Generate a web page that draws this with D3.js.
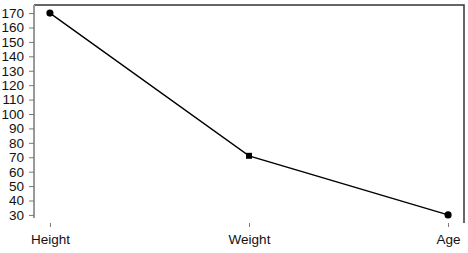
<!DOCTYPE html>
<html>
<head>
<meta charset="utf-8">
<script src="https://cdn.jsdelivr.net/npm/d3@7"></script>
<style>
  body { margin: 0; background: #fff; }
  text { font-family: "Liberation Sans", Arial, sans-serif; }
</style>
</head>
<body>
<div id="chart"></div>
<script>
// data
const categories = ['Height', 'Weight', 'Age'];
const values = [170, 71, 30];
const markers = ['circle', 'square', 'circle'];
const yTicks = d3.range(30, 171, 10);

const width = 468, height = 253;
const plot = { left: 34, right: 464, top: 5, bottom: 223 };

const svg = d3.select('#chart')
    .append('svg')
    .attr('width', width)
    .attr('height', height);

// R style 4% padding on both axes
const xScale = d3.scaleLinear()
    .domain([0.92, 3.08])
    .range([plot.left, plot.right]);

const yPad = (170 - 30) * 0.04;
const yScale = d3.scaleLinear()
    .domain([30 - yPad, 170 + yPad])
    .range([plot.bottom, plot.top]);

// frame: top and right in dark grey
svg.append('path')
    .attr('d', `M${plot.left},${plot.top}H${plot.right}V${plot.bottom}`)
    .attr('fill', 'none')
    .attr('stroke', '#333')
    .attr('stroke-width', 1.5);

// y axis
const yAxis = svg.append('g')
    .attr('transform', `translate(${plot.left},0)`)
    .call(d3.axisLeft(yScale)
        .tickValues(yTicks)
        .tickSize(5)
        .tickPadding(5));
yAxis.select('.domain')
    .attr('d', `M0,${plot.top}V${yScale(30) + 3}`)
    .attr('stroke', '#999')
    .attr('stroke-width', 2);
yAxis.selectAll('.tick line').attr('stroke', '#777');
yAxis.selectAll('.tick text')
    .attr('font-size', 13.5)
    .attr('fill', '#111')
    .style('font-family', '"Liberation Sans", Arial, sans-serif');

// x axis
const xAxis = svg.append('g')
    .attr('transform', `translate(0,${plot.bottom})`)
    .call(d3.axisBottom(xScale)
        .tickValues([1, 2, 3])
        .tickFormat(d => categories[d - 1])
        .tickSize(4)
        .tickPadding(7));
xAxis.select('.domain').remove();
xAxis.selectAll('.tick line').attr('stroke', '#777');
xAxis.selectAll('.tick text')
    .attr('font-size', 13.5)
    .attr('fill', '#111')
    .style('font-family', '"Liberation Sans", Arial, sans-serif');

const points = values.map((v, i) => ({ x: i + 1, y: v, shape: markers[i] }));

// line
svg.append('path')
    .datum(points)
    .attr('fill', 'none')
    .attr('stroke', '#000')
    .attr('stroke-width', 1.4)
    .attr('d', d3.line().x(d => xScale(d.x)).y(d => yScale(d.y)));

// markers
svg.selectAll('.pt')
    .data(points)
    .enter()
    .append('path')
    .attr('class', 'pt')
    .attr('transform', d => `translate(${xScale(d.x)},${yScale(d.y)})`)
    .attr('d', d => d3.symbol()
        .type(d.shape === 'square' ? d3.symbolSquare : d3.symbolCircle)
        .size(d.shape === 'square' ? 36 : 40)())
    .attr('fill', '#000');
</script>
</body>
</html>
